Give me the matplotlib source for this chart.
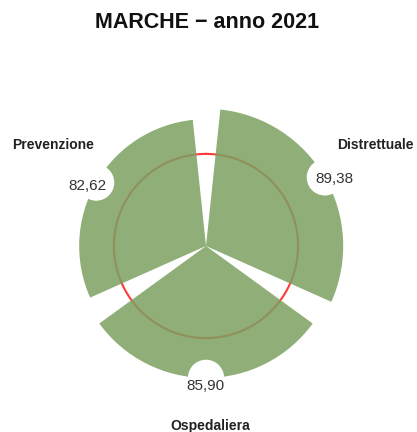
import numpy as np
import matplotlib
matplotlib.use("Agg")
import matplotlib.pyplot as plt

# Dati
categorie = ["Distrettuale", "Ospedaliera", "Prevenzione"]
valori    = [89.38, 85.90, 82.62]
etichette = ["89,38", "85,90", "82,62"]
soglia    = 60
titolo    = "MARCHE \u2212 anno 2021"

plt.rcParams["font.family"] = ["Liberation Sans", "DejaVu Sans"]

W, H, DPI = 417, 432, 100
fig = plt.figure(figsize=(W / DPI, H / DPI), dpi=DPI)

# asse polare centrato in (206, 246) px, r=100 -> 153.5 px
cx, cy, rpx = 206, 246, 153.5
ax = fig.add_axes([(cx - rpx) / W, (H - cy - rpx) / H, 2 * rpx / W, 2 * rpx / H],
                  projection="polar")
ax.set_theta_zero_location("N")
ax.set_theta_direction(-1)
ax.set_ylim(0, 100)
ax.axis("off")

angoli = np.deg2rad([60, 180, 300])
larg   = np.deg2rad(108)

# cerchio soglia (sotto le barre)
t = np.linspace(0, 2 * np.pi, 400)
ax.plot(t, np.full_like(t, soglia), color="#ff3b3b", linewidth=1.5, zorder=1)

ax.bar(angoli, valori, width=larg, color="#7ba060", alpha=0.85,
       edgecolor="none", zorder=2)

# etichette valore con cerchio bianco (spostamento testo in pixel)
ax.scatter(angoli, valori, s=680, color="white", edgecolor="none", zorder=3, clip_on=False)
spost = [(10, -2), (-1, -8), (-9, -3)]
for a, v, lab, (dx, dy) in zip(angoli, valori, etichette, spost):
    ax.annotate(lab, xy=(a, v), xytext=(dx * 0.72, dy * 0.72), textcoords="offset points",
                ha="center", va="center", fontsize=11, color="#333333",
                zorder=4, annotation_clip=False)

# etichette categorie (posizioni in pixel)
pos_cat = {"Distrettuale": (375, 145), "Ospedaliera": (210, 426), "Prevenzione": (53, 145)}
for c in categorie:
    x, y = pos_cat[c]
    fig.text(x / W, 1 - y / H, c, ha="center", va="center",
             fontsize=10, fontweight="bold", color="#222222")

fig.text(0.497, 1 - 22 / H, titolo, ha="center", va="center",
         fontsize=15.5, fontweight="bold", color="#111111")

plt.savefig("out.png", dpi=DPI)
plt.close()
